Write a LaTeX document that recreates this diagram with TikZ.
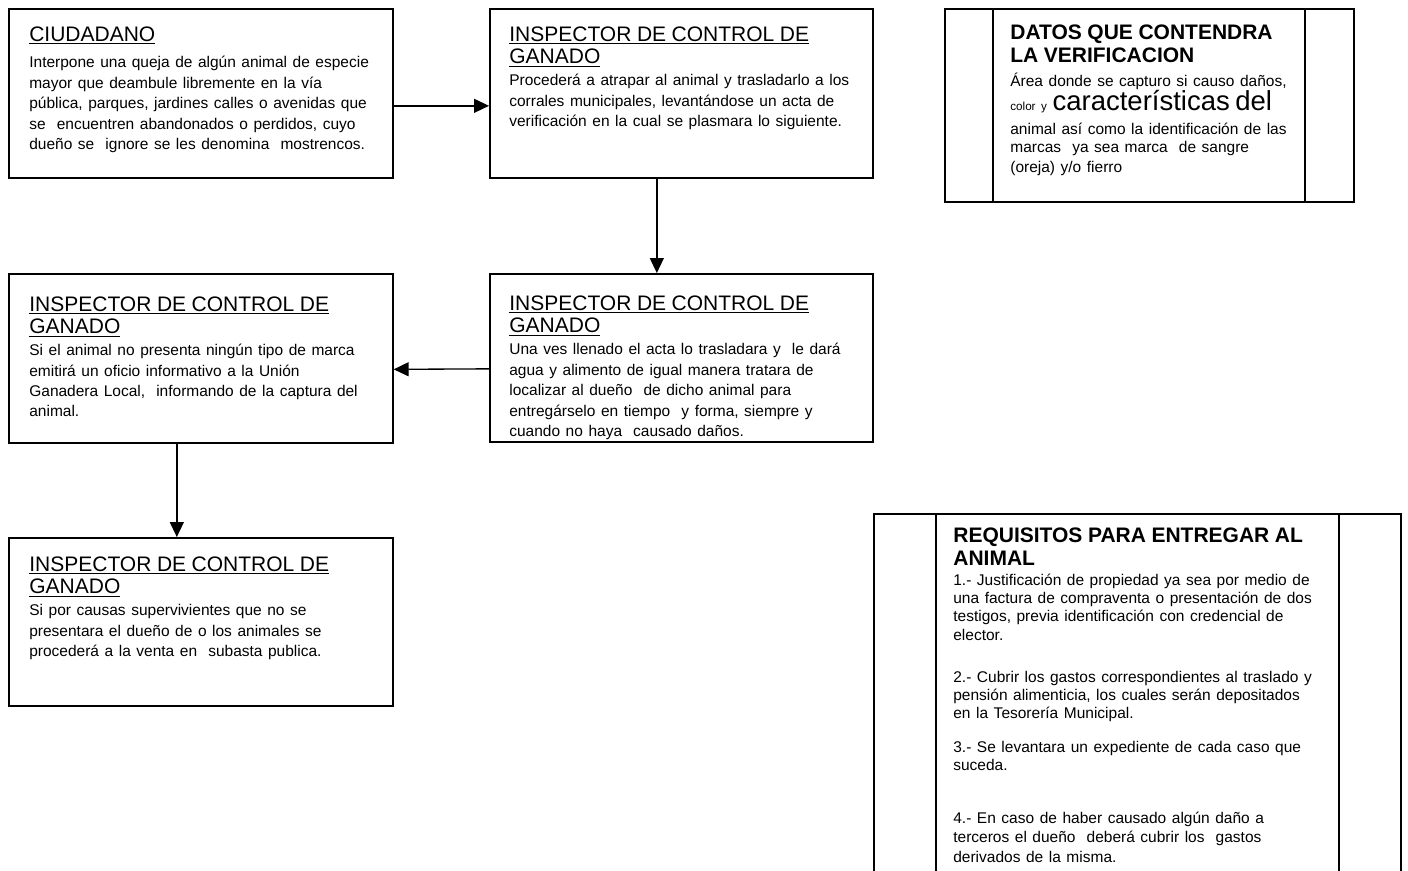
\documentclass[tikz,border=0pt]{standalone}
\usepackage{fontspec}
\setmainfont{Liberation Sans}
\usetikzlibrary{arrows.meta}

\newcommand{\pxl}{0.6pt}
\newcommand{\hd}[1]{\fontsize{12.6}{13.6}\selectfont\underline{#1}}
\newcommand{\hb}{\fontsize{12.6}{14}\selectfont\bfseries}
\newcommand{\bd}{\fontsize{9.3}{12.3}\selectfont}
\newcommand{\bs}{\fontsize{9.3}{11.2}\selectfont\lineskiplimit=-100pt}

\tikzset{
  box/.style={draw, line width=1pt, inner sep=0pt, anchor=north west},
  txt/.style={anchor=north west, inner sep=0pt, align=left, text width=380*\pxl},
  flow/.style={line width=0.8pt, -{Triangle[length=9pt, width=8.4pt]}},
}

\begin{document}
\begin{tikzpicture}[x=0.6pt, y=-0.6pt]
  \useasboundingbox (0,0) rectangle (1408,870);

  % boxes
  \node[box, minimum width=384*\pxl, minimum height=169*\pxl] (ciudadano)  at (8,8)     {};
  \node[box, minimum width=383*\pxl, minimum height=169*\pxl] (captura)    at (489,8)   {};
  \node[box, minimum width=409*\pxl, minimum height=193*\pxl] (datos)      at (944,8)   {};
  \node[box, minimum width=383*\pxl, minimum height=168*\pxl] (resguardo)  at (489,273) {};
  \node[box, minimum width=384*\pxl, minimum height=169*\pxl] (aviso)      at (8,273)   {};
  \node[box, minimum width=384*\pxl, minimum height=168*\pxl] (subasta)    at (8,537)   {};
  \node[box, minimum width=527*\pxl, minimum height=380*\pxl] (requisitos) at (873,513) {};

  % side strips
  \draw[line width=1pt] ([xshift=49*\pxl]datos.north west) -- ([xshift=49*\pxl]datos.south west);
  \draw[line width=1pt] ([xshift=-50*\pxl]datos.north east) -- ([xshift=-50*\pxl]datos.south east);
  \draw[line width=1pt] ([xshift=63*\pxl]requisitos.north west) -- ([xshift=63*\pxl]requisitos.south west);
  \draw[line width=1pt] ([xshift=-63*\pxl]requisitos.north east) -- ([xshift=-63*\pxl]requisitos.south east);

  % texts
  \node[txt] (ciudadano-t) at (29,26) {\hd{CIUDADANO}\par\vspace{3.8pt}\bd
    Interpone una queja de algún animal de especie\\
    mayor que deambule libremente en la vía\\
    pública, parques, jardines calles o avenidas que\\
    se\ \ encuentren abandonados o perdidos, cuyo\\
    dueño se\ \ ignore se les denomina\ \ mostrencos.};
  \node[txt] (captura-t) at (509,26) {\hd{INSPECTOR DE CONTROL DE}\\\hd{GANADO}\par\vspace{1pt}\bd
    Procederá a atrapar al animal y trasladarlo a los\\
    corrales municipales, levantándose un acta de\\
    verificación en la cual se plasmara lo siguiente.};
  \node[txt] (datos-t) at (1010,24) {{\hb DATOS QUE CONTENDRA\\ LA VERIFICACION\par}\vspace{3pt}\bs
    Área donde se capturo si causo daños,\\[3.2pt]
    {\fontsize{7}{8}\selectfont color y} {\fontsize{16.5}{17}\selectfont características del}\\[3.2pt]
    animal así como la identificación de las\\
    marcas\ \ ya sea marca\ \ de sangre\\
    (oreja) y/o fierro};
  \node[txt] (resguardo-t) at (509,295) {\hd{INSPECTOR DE CONTROL DE}\\\hd{GANADO}\par\vspace{1pt}\bd
    Una ves llenado el acta lo trasladara y\ \ le dará\\
    agua y alimento de igual manera tratara de\\
    localizar al dueño\ \ de dicho animal para\\
    entregárselo en tiempo\ \ y forma, siempre y\\
    cuando no haya\ \ causado daños.};
  \node[txt] (aviso-t) at (29,296) {\hd{INSPECTOR DE CONTROL DE}\\\hd{GANADO}\par\vspace{1pt}\bd
    Si el animal no presenta ningún tipo de marca\\
    emitirá un oficio informativo a la Unión\\
    Ganadera Local,\ \ informando de la captura del\\
    animal.};
  \node[txt] (subasta-t) at (29,556) {\hd{INSPECTOR DE CONTROL DE}\\\hd{GANADO}\par\vspace{1pt}\bd
    Si por causas supervivientes que no se\\
    presentara el dueño de o los animales se\\
    procederá a la venta en\ \ subasta publica.};
  \node[txt] (requisitos-t) at (953,527) {{\hb REQUISITOS PARA ENTREGAR AL\\ ANIMAL\par}\vspace{0.8pt}\bs\baselineskip=11pt
    1.- Justificación de propiedad ya sea por medio de\\
    una factura de compraventa o presentación de dos\\
    testigos, previa identificación con credencial de\\
    elector.\\[14.2pt]
    2.- Cubrir los gastos correspondientes al traslado y\\
    pensión alimenticia, los cuales serán depositados\\
    en la Tesorería Municipal.\\[9.3pt]
    3.- Se levantara un expediente de cada caso que\\
    suceda.\\[20.7pt]
    4.- En caso de haber causado algún daño a\\
    terceros el dueño\ \ deberá cubrir los\ \ gastos\\
    derivados de la misma.};

  % flow
  \draw[flow] ([yshift=-12.5*\pxl]ciudadano.east) -- ([yshift=-12.5*\pxl]captura.west);
  \draw[flow] ([xshift=-24.5*\pxl]captura.south) -- ([xshift=-24.5*\pxl]resguardo.north);
  \draw[flow] ([yshift=-11*\pxl]resguardo.west) -- ([yshift=-11*\pxl]aviso.east);
  \draw[flow] ([xshift=-24*\pxl]aviso.south) -- ([xshift=-24*\pxl]subasta.north);
\end{tikzpicture}
\end{document}
